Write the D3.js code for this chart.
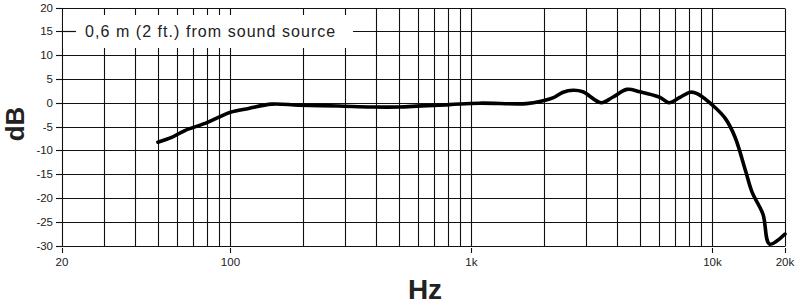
<!DOCTYPE html>
<meta charset="utf-8">
<head>
    <title>Frequency response</title>
    <style>
        body { margin: 0; background: #fff; }
        text { font-family: "Liberation Sans", Arial, sans-serif; fill: #222; }
    </style>
</head>
<body>
    <script src="https://d3js.org/d3.v7.min.js"></script>
    <script>
        // frequency response
        var freqs = [50, 57, 65, 79, 89, 100, 119, 148, 192, 282, 387, 500, 809, 1080, 1690, 1980,
                     2175, 2400, 2640, 2900, 3450, 3870, 4415, 5000, 6060, 6600, 7330, 8100, 8630,
                     10200, 11300, 12400, 13700, 14600, 16200, 17260, 20000];
        var dbValues = [-8.3, -7.3, -5.8, -4.3, -3.1, -2.0, -1.2, -0.3, -0.5, -0.7, -0.9, -0.9, -0.4, -0.1, -0.2, 0.4,
                        1.0, 2.2, 2.6, 2.3, 0.0, 1.2, 2.8, 2.3, 1.1, 0.0, 1.1, 2.2, 1.9,
                        -0.9, -3.3, -7.2, -14.2, -18.8, -23.4, -29.7, -27.6];

        var yTicks = [20, 15, 10, 5, 0, -5, -10, -15, -20, -25, -30];
        var xGrid = [20, 30, 40, 50, 60, 70, 80, 90, 100, 200, 300, 400, 500, 600, 700, 800, 900,
                     1000, 2000, 3000, 4000, 5000, 6000, 7000, 8000, 9000, 10000, 20000];
        var xLabels = [[20, "20"], [100, "100"], [1000, "1k"], [10000, "10k"], [20000, "20k"]];
        var legendText = "0,6 m (2 ft.) from sound source";

        var width = 800, height = 305;

        var svg = d3.select("body").append("svg")
            .attr("width", width)
            .attr("height", height);

        var x = d3.scaleLog().domain([20, 20000]).range([62, 785]);
        var y = d3.scaleLinear().domain([-30, 20]).range([245.5, 7.5]);

        var grid = svg.append("g").attr("stroke", "#111").attr("stroke-width", 1.1);

        // horizontal grid lines
        grid.selectAll("line.h")
            .data(yTicks)
            .enter().append("line")
            .attr("class", "h")
            .attr("x1", x(20)).attr("x2", x(20000))
            .attr("y1", function (d) { return Math.round(y(d)) + 0.5; })
            .attr("y2", function (d) { return Math.round(y(d)) + 0.5; });

        // vertical grid lines
        grid.selectAll("line.v")
            .data(xGrid)
            .enter().append("line")
            .attr("class", "v")
            .attr("x1", function (d) { return Math.round(x(d)) + 0.5; })
            .attr("x2", function (d) { return Math.round(x(d)) + 0.5; })
            .attr("y1", Math.round(y(20)) + 0.5).attr("y2", Math.round(y(-30)) + 0.5);

        // y tick marks + labels
        grid.selectAll("line.yt")
            .data(yTicks)
            .enter().append("line")
            .attr("x1", 56).attr("x2", x(20))
            .attr("y1", function (d) { return Math.round(y(d)) + 0.5; })
            .attr("y2", function (d) { return Math.round(y(d)) + 0.5; });

        svg.selectAll("text.yl")
            .data(yTicks)
            .enter().append("text")
            .attr("x", 53)
            .attr("y", function (d) { return y(d) + 4; })
            .attr("text-anchor", "end")
            .style("font-size", "11.5px")
            .text(function (d) { return d; });

        // x tick marks + labels
        grid.selectAll("line.xt")
            .data(xLabels)
            .enter().append("line")
            .attr("x1", function (d) { return Math.round(x(d[0])) + 0.5; })
            .attr("x2", function (d) { return Math.round(x(d[0])) + 0.5; })
            .attr("y1", 248).attr("y2", 253);

        svg.selectAll("text.xl")
            .data(xLabels)
            .enter().append("text")
            .attr("x", function (d) { return x(d[0]); })
            .attr("y", 266)
            .attr("text-anchor", "middle")
            .style("font-size", "11.5px")
            .text(function (d) { return d[1]; });

        // legend box over the grid
        svg.append("rect")
            .attr("x", 63).attr("y", 15)
            .attr("width", 290).attr("height", 33)
            .attr("fill", "#fff");

        svg.append("line")
            .attr("x1", 62).attr("x2", 76)
            .attr("y1", Math.round(y(15)) + 0.5).attr("y2", Math.round(y(15)) + 0.5)
            .attr("stroke", "#111").attr("stroke-width", 1.2);

        svg.append("text")
            .attr("x", 85)
            .attr("y", y(15) + 5.5)
            .style("font-size", "16px")
            .style("letter-spacing", "1.05px")
            .text(legendText);

        // response curve
        var line = d3.line()
            .x(function (d, i) { return x(freqs[i]); })
            .y(function (d) { return y(d); })
            .curve(d3.curveCatmullRom.alpha(0.5));

        svg.append("path")
            .datum(dbValues)
            .attr("fill", "none")
            .attr("stroke", "#000")
            .attr("stroke-width", 3.6)
            .attr("stroke-linejoin", "round")
            .attr("stroke-linecap", "round")
            .attr("d", line);

        // axis titles
        svg.append("text")
            .attr("transform", "translate(24,124) rotate(-90)")
            .attr("text-anchor", "middle")
            .style("font-size", "26px")
            .style("font-weight", "bold")
            .text("dB");

        svg.append("text")
            .attr("x", 425)
            .attr("y", 299)
            .attr("text-anchor", "middle")
            .style("font-size", "28px")
            .style("font-weight", "bold")
            .text("Hz");
    </script>
</body>
</html>
